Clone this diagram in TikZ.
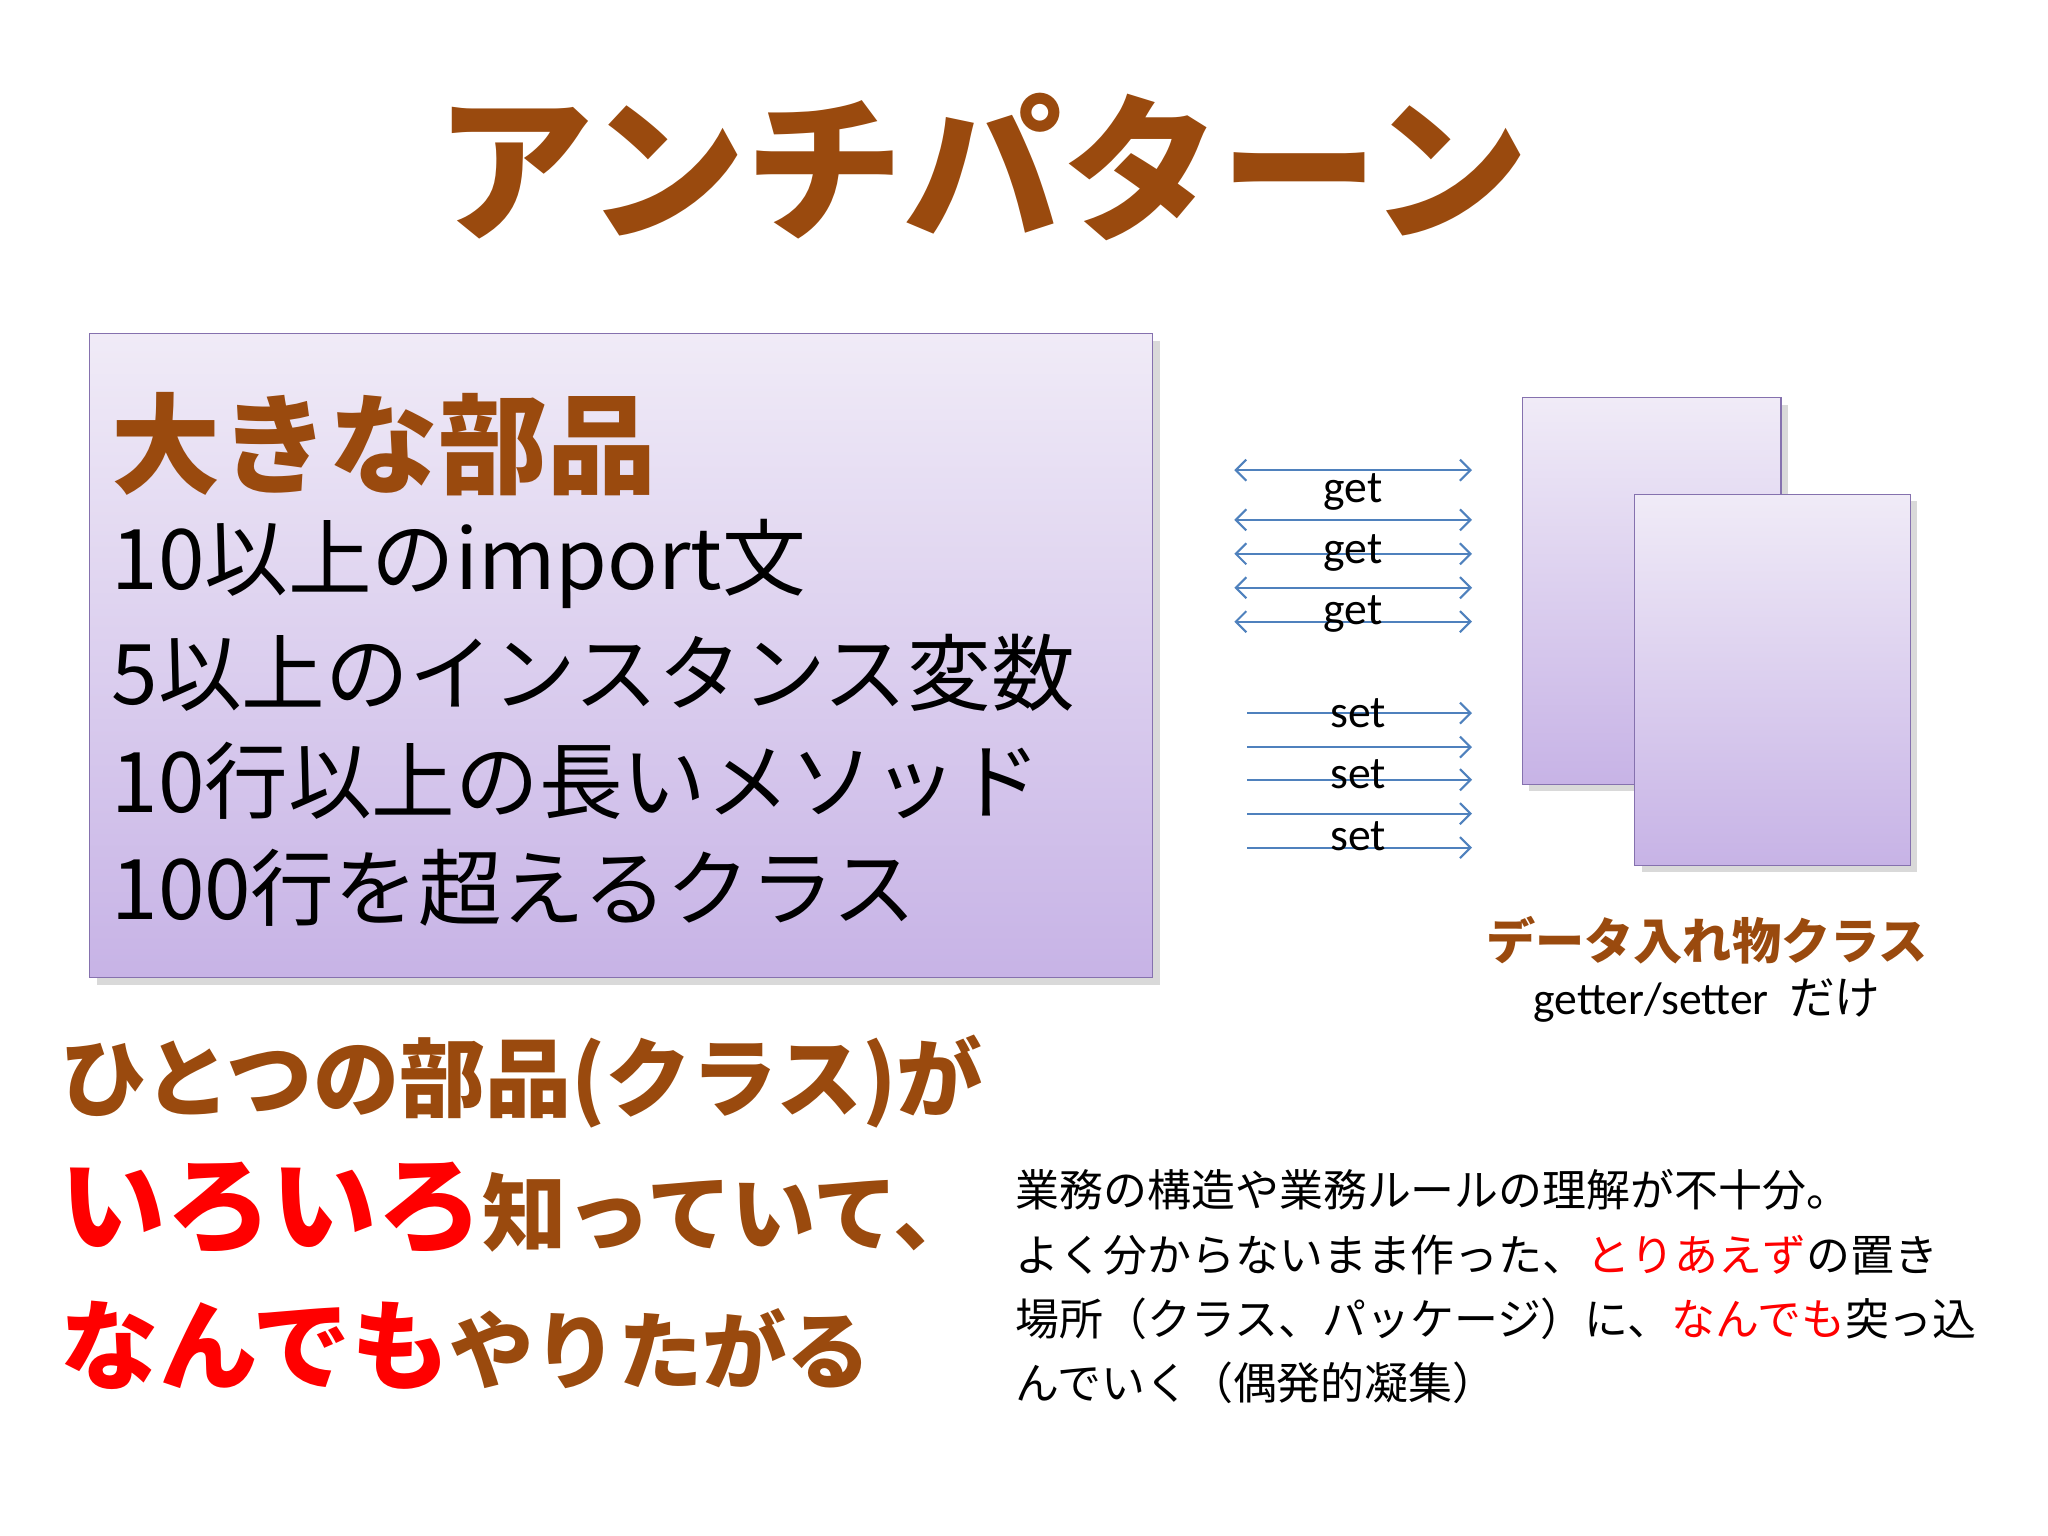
\documentclass[tikz,border=0pt]{standalone}
\usepackage{fontspec}
\setmainfont{Carlito}
\newfontfamily\cjk{Noto Sans CJK JP}[BoldFont={Noto Sans CJK JP Black}]
\usetikzlibrary{arrows.meta,shadows}
\definecolor{brn}{HTML}{9A4A0E}
\definecolor{lav1}{HTML}{F0EBF7}
\definecolor{lav2}{HTML}{C7B3E6}
\definecolor{lavb}{HTML}{8571AE}
\definecolor{arr}{HTML}{4F81BD}
\definecolor{rd}{HTML}{FF0000}
\tikzset{
 pbox/.style={draw=lavb,top color=lav1,bottom color=lav2,drop shadow={opacity=0.3,shadow xshift=2pt,shadow yshift=-2pt}},
 dbl/.style={arr,{Straight Barb[length=3pt,width=6pt]}-{Straight Barb[length=3pt,width=6pt]},line width=0.6pt},
 sgl/.style={arr,-{Straight Barb[length=3pt,width=6pt]},line width=0.6pt},
 lbl/.style={font=\fontsize{13}{13}\selectfont,inner sep=0pt},
 big/.style={font=\cjk\fontsize{23.8}{23.8}\selectfont,anchor=west,inner sep=0pt},
}
\begin{document}
\begin{tikzpicture}[x=0.01306cm,y=-0.01306cm]
\useasboundingbox (0,0) rectangle (1568,1176);
\node (title) at (752,128) {\cjk\bfseries\fontsize{45}{45}\selectfont\color{brn}アンチパターン};
\node[pbox,minimum width=814*0.3716pt,minimum height=493*0.3716pt,anchor=north west] (main) at (68,255) {};
\node[anchor=west,inner sep=0pt] (h) at (85,340) {\cjk\bfseries\fontsize{31}{31}\selectfont\color{brn}大きな部品};
\node[big] (l1) at (85,432) {10以上のimport文};
\node[big] (l2) at (85,515) {5以上のインスタンス変数};
\node[big] (l3) at (85,598) {10行以上の長いメソッド};
\node[big] (l4) at (85,680) {100行を超えるクラス};
% data classes
\node[pbox,minimum width=198*0.3716pt,minimum height=296*0.3716pt,anchor=north west] (c1) at (1165,304) {};
\node[pbox,minimum width=211*0.3716pt,minimum height=284*0.3716pt,anchor=north west] (c2) at (1251,378) {};
\node (dc) at (1307,720) {\cjk\bfseries\fontsize{14}{14}\selectfont\color{brn}データ入れ物クラス};
\node (gs) at (1307,766) {\fontsize{13}{13}\selectfont getter/setter\ \ {\cjk だけ}};
% arrows
\foreach \y/\n in {360/a,398/b,424/c,450/d,476/e}{
 \coordinate (gl\n) at (945,\y); \coordinate (gr\n) at (1127,\y);
 \draw[dbl] (gl\n) -- (gr\n);}
\foreach \y/\n in {546/a,572/b,597/c,623/d,649/e}{
 \coordinate (sl\n) at (955,\y); \coordinate (sr\n) at (1127,\y);
 \draw[sgl] (sl\n) -- (sr\n);}
\node[lbl] (g1) at (1036,377) {get};
\node[lbl] (g2) at (1036,423) {get};
\node[lbl] (g3) at (1036,470) {get};
\node[lbl] (s1) at (1040,546) {set};
\node[lbl] (s2) at (1040,593) {set};
\node[lbl] (s3) at (1040,640) {set};
% bottom left
\node[anchor=west,inner sep=0pt] (b1) at (46,828) {\cjk\bfseries\fontsize{24.5}{24.5}\selectfont\color{brn}ひとつの部品(クラス)が};
\node[anchor=west,inner sep=0pt] (b2) at (46,925) {\cjk\bfseries\color{rd}\fontsize{30}{30}\selectfont いろいろ{\color{brn}\fontsize{24}{24}\selectfont 知っていて、}};
\node[anchor=west,inner sep=0pt] (b3) at (46,1030) {\cjk\bfseries\color{rd}\fontsize{28}{28}\selectfont なんでも{\color{brn}\fontsize{24}{24}\selectfont やりたがる}};
% right text
\node[anchor=north west,inner sep=0pt,align=left,font=\cjk\fontsize{12.5}{18.3}\selectfont] (desc) at (777,895) {業務の構造や業務ルールの理解が不十分。\\よく分からないまま作った、{\color{rd}とりあえず}の置き\\場所（クラス、パッケージ）に、{\color{rd}なんでも}突っ込\\んでいく（偶発的凝集）};
\end{tikzpicture}
\end{document}
